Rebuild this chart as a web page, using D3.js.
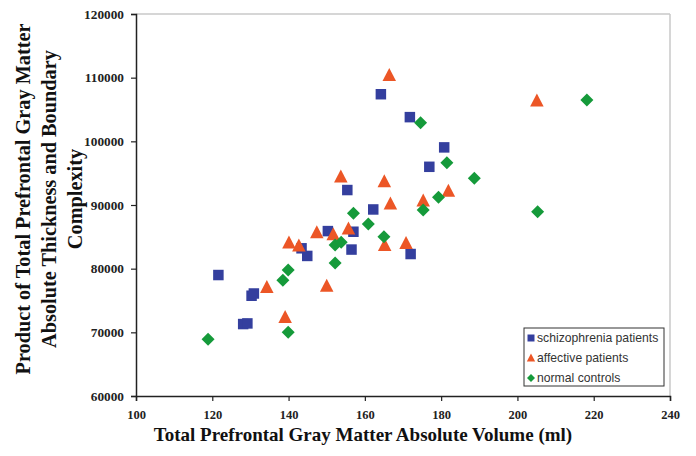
<!DOCTYPE html>
<html><head><meta charset="utf-8">
<script src="https://cdn.jsdelivr.net/npm/d3@7"></script>
<style>body{margin:0;background:#fff}svg{display:block}</style>
</head><body>
<script>
const schizoX = [121.6,128.1,129.2,130.3,130.9,143.4,144.9,150.3,155.4,156.5,157.0,162.2,164.2,171.8,172.0,176.9,180.8];
const schizoY = [79000,71300,71400,75750,76100,83200,82000,85900,92350,83000,85800,89300,107400,103800,82300,96000,99050];
const affectX = [134.3,139.1,140.1,142.7,147.4,150.0,151.7,153.7,155.7,165.1,165.2,166.4,166.7,170.8,175.3,181.9,205.1];
const affectY = [77100,72400,84100,83600,85700,77300,85400,94450,86300,93700,83700,110400,90200,84000,90700,92200,106400];
const normalX = [118.9,138.5,139.9,139.9,152.2,152.2,153.8,157.0,160.9,165.0,174.6,175.3,179.3,181.5,188.7,205.3,218.2];
const normalY = [68900,78200,79800,70000,83700,80900,84150,88700,87000,85000,102900,89200,91200,96650,94200,88950,106500];
const xTicks = [100,120,140,160,180,200,220,240];
const yTicks = [60000,70000,80000,90000,100000,110000,120000];
const seriesNames = ["schizophrenia patients","affective patients","normal controls"];
const seriesColors = ["#343f9e","#ec5626","#159a3a"];

const W=696,H=456;
const svg=d3.select("body").append("svg").attr("width",W).attr("height",H);
const x=d3.scaleLinear().domain([100,240]).range([136,670]);
const y=d3.scaleLinear().domain([60000,120000]).range([396,14]);

// frame
svg.append("line").attr("x1",136).attr("x2",670).attr("y1",14).attr("y2",14).attr("stroke","#c8c8c8").attr("stroke-width",1.5);
svg.append("line").attr("x1",670).attr("x2",670).attr("y1",14).attr("y2",396).attr("stroke","#c8c8c8").attr("stroke-width",1.5);

const tickFont = "'Liberation Serif','Times New Roman',serif";
const gx=svg.append("g").attr("transform","translate(0,396)")
  .call(d3.axisBottom(x).tickValues(xTicks).tickSize(5).tickFormat(d3.format("d")));
const gy=svg.append("g").attr("transform","translate(136,0)")
  .call(d3.axisLeft(y).tickValues(yTicks).tickSize(5).tickFormat(d3.format("d")));
[gx,gy].forEach(g=>{
  g.select(".domain").attr("stroke","#222").attr("stroke-width",1.5);
  g.selectAll(".tick line").attr("stroke","#222").attr("stroke-width",1.2);
  g.selectAll("text").attr("font-family",tickFont).attr("font-weight","bold").attr("fill","#222");
});
gx.selectAll("text").attr("font-size",12.5).attr("dy","1.2em");
gy.selectAll("text").attr("font-size",13.3).attr("dx","-4");

const shapes=[
  {draw(c,s){c.rect(-s/2,-s/2,s,s);}},
  {draw(c,s){c.moveTo(0,-s*0.55);c.lineTo(s*0.52,s*0.45);c.lineTo(-s*0.52,s*0.45);c.closePath();}},
  {draw(c,s){const r=s/2;c.moveTo(0,-r);c.lineTo(r,0);c.lineTo(0,r);c.lineTo(-r,0);c.closePath();}}
];
const sizes=[10.5,13,13];
const data=[[schizoX,schizoY],[affectX,affectY],[normalX,normalY]];
data.forEach(([xs,ys],i)=>{
  svg.append("g").selectAll("path").data(xs.map((v,j)=>[v,ys[j]])).join("path")
    .attr("transform",d=>`translate(${x(d[0])},${y(d[1])})`)
    .attr("d",d3.symbol().type(shapes[i]).size(sizes[i]))
    .attr("fill",seriesColors[i]);
});

// legend
const lg=svg.append("g");
lg.append("rect").attr("x",524).attr("y",328).attr("width",140).attr("height",58).attr("fill","#fff").attr("stroke","#333").attr("stroke-width",1);
seriesNames.forEach((n,i)=>{
  const yy=338+i*20;
  lg.append("path").attr("transform",`translate(531,${yy})`).attr("d",d3.symbol().type(shapes[i]).size([7,8,8][i])).attr("fill",seriesColors[i]);
  lg.append("text").attr("x",537).attr("y",yy).attr("dy","0.35em").attr("font-family","'Liberation Sans',Arial,sans-serif").attr("font-size",12.2).attr("fill","#333").text(n);
});

// titles
svg.append("text").attr("x",363).attr("y",441).attr("text-anchor","middle").attr("font-family",tickFont).attr("font-weight","bold").attr("font-size",19).attr("fill","#111").text("Total Prefrontal Gray Matter Absolute Volume (ml)");
const yt=svg.append("text").attr("transform","translate(0,199) rotate(-90)").attr("text-anchor","middle").attr("font-family",tickFont).attr("font-weight","bold").attr("font-size",20.3).attr("fill","#111");
["Product of Total Prefrontal Gray Matter","Absolute Thickness and Boundary","Complexity"].forEach((t,i)=>{
  yt.append("tspan").attr("x",0).attr("y",30+i*26).text(t);
});
</script>
</body></html>
